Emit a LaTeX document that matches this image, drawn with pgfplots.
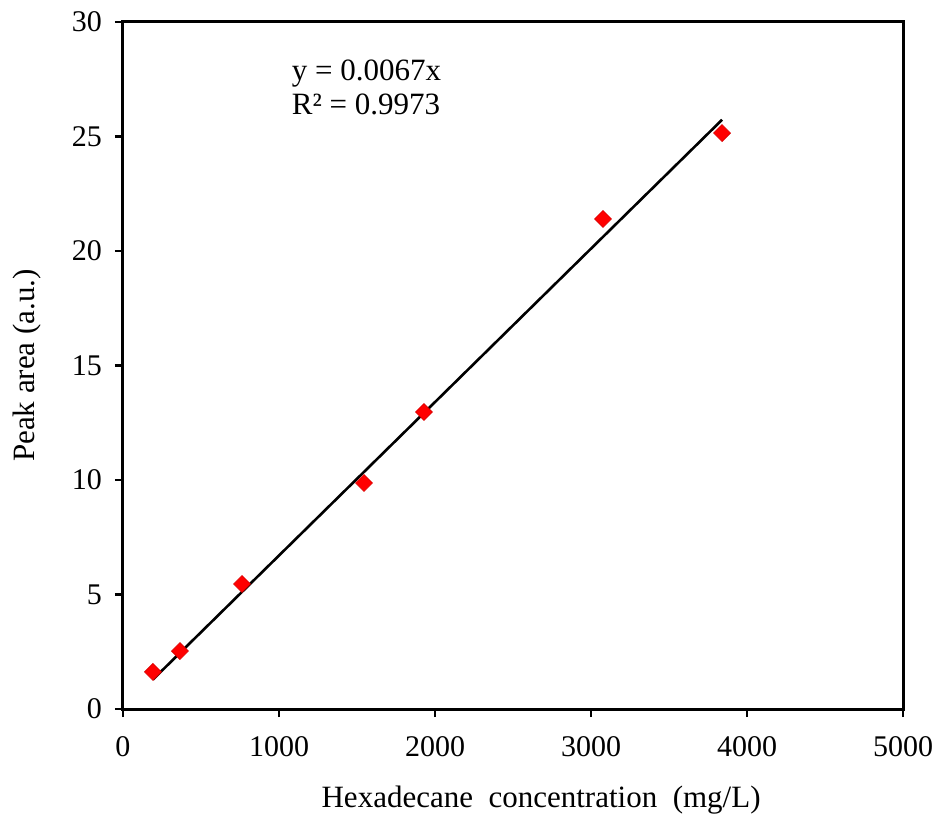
\documentclass[border=0pt]{standalone}
\usepackage{fontspec}
\setmainfont{Liberation Serif}
\usepackage{pgfplots}
\pgfplotsset{compat=1.18}

\begin{document}
\begin{tikzpicture}
  \begin{axis}[
      scale only axis,
      width=390pt, height=343.5pt,
      at={(0,0)}, anchor=south west,
      xmin=0, xmax=5000, ymin=0, ymax=30,
      xtick={0,1000,...,5000}, ytick={0,5,...,30},
      tick align=outside, major tick length=4pt,
      xtick pos=bottom, ytick pos=left,
      axis line style={line width=1.5pt},
      every tick/.style={black, line width=1.2pt},
      scaled x ticks=false,
      /pgf/number format/assume math mode=true,
      /pgf/number format/1000 sep={},
      tick label style={font=\fontsize{15}{17}\selectfont},
      xticklabel style={yshift=-6pt},
      yticklabel style={xshift=-3pt},
      label style={font=\fontsize{15.5}{18}\selectfont},
      xlabel={Hexadecane\ \ concentration\ \ (mg/L)},
      ylabel={Peak area (a.u.)},
      xlabel style={at={(axis description cs:0.536,0)}, anchor=north, yshift=-35pt},
      ylabel style={at={(axis description cs:0,0.5)}, yshift=37.5pt},
      clip=false,
    ]
    % trendline y = 0.0067x
    \addplot[black, line width=1.3pt] coordinates {
      (192, 1.29) (3840, 25.73)
    };
    % measured points
    \addplot[only marks, mark=square*, mark size=3pt,
      mark options={rotate=45, fill=red, draw=red!85!black, line width=0.3pt}]
      coordinates {
      (192, 1.62) (365, 2.53) (763, 5.46) (1545, 9.87)
      (1929, 12.97) (3077, 21.40) (3840, 25.15)
    };
    \node[anchor=north west, inner sep=0pt, align=left,
      font=\fontsize{15.5}{17}\selectfont]
      at (rel axis cs:0.216,0.945) {y = 0.0067x\\R² = 0.9973};
  \end{axis}
  \pgfresetboundingbox
  \path (-61.5pt,-55pt) rectangle (408.5pt,354.5pt);
\end{tikzpicture}
\end{document}
